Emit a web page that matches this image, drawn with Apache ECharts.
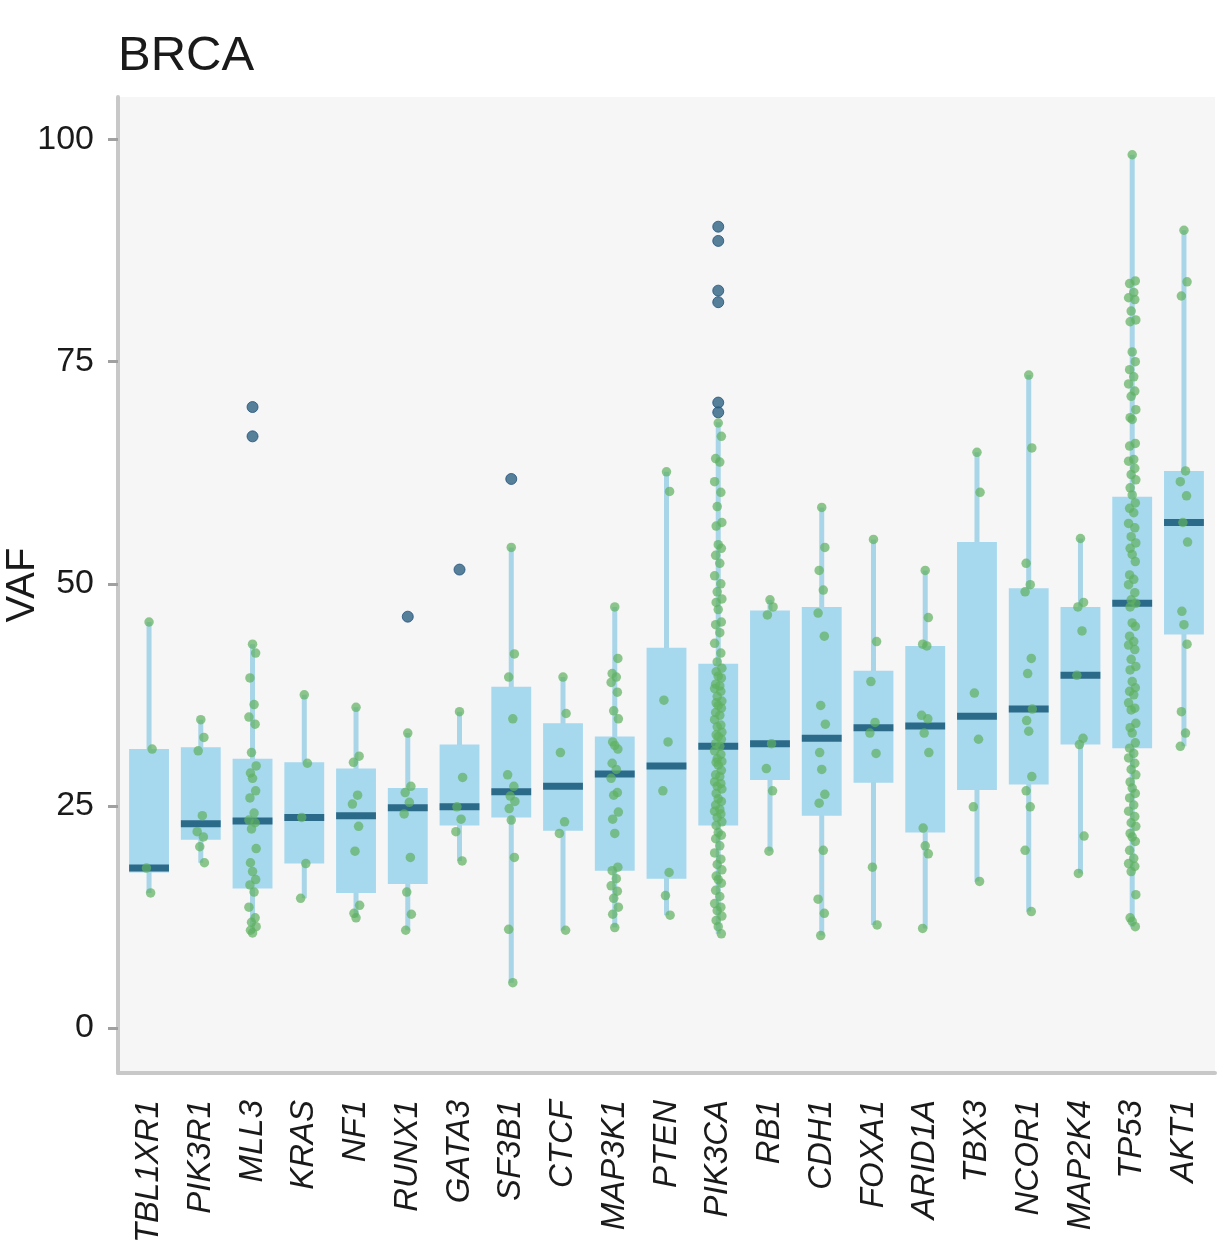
<!DOCTYPE html>
<html>
<head>
<meta charset="utf-8">
<script src="https://cdn.jsdelivr.net/npm/echarts@6/dist/echarts.min.js"></script>
<style>
html,body{margin:0;padding:0;background:#fff;}
#chart{width:1230px;height:1260px;}
</style>
</head>
<body>
<div id="chart"></div>
<script>
const genes = ['TBL1XR1','PIK3R1','MLL3','KRAS','NF1','RUNX1','GATA3','SF3B1','CTCF','MAP3K1','PTEN','PIK3CA','RB1','CDH1','FOXA1','ARID1A','TBX3','NCOR1','MAP2K4','TP53','AKT1'];

const whiskerLow  = [15.2, 18.6, 10.7, 14.6, 12.4, 11.0, 18.8,  5.1, 11.0, 11.3, 12.7, 10.6, 19.9, 10.4, 11.6, 11.2, 16.5, 13.1, 17.4, 11.4, 31.7];
const boxQ1       = [17.5, 21.2, 15.7, 18.5, 15.2, 16.2, 22.8, 23.7, 22.2, 17.7, 16.8, 22.8, 27.9, 23.9, 27.6, 22.0, 26.8, 27.4, 31.9, 31.5, 44.3];
const boxMedian   = [18.0, 23.0, 23.3, 23.7, 23.9, 24.8, 24.9, 26.6, 27.2, 28.6, 29.5, 31.7, 32.0, 32.6, 33.8, 34.0, 35.1, 35.9, 39.7, 47.8, 56.9];
const boxQ3       = [31.4, 31.6, 30.3, 29.9, 29.2, 27.0, 31.9, 38.4, 34.3, 32.8, 42.8, 41.0, 47.0, 47.4, 40.2, 43.0, 54.7, 49.5, 47.4, 59.8, 62.7];
const whiskerHigh = [45.7, 34.7, 43.2, 37.5, 36.1, 33.2, 35.6, 54.1, 39.5, 47.4, 62.6, 68.2, 48.2, 58.6, 55.0, 51.5, 64.8, 73.5, 55.1, 98.3, 89.8];

const outlierGene = ['MLL3','MLL3','RUNX1','GATA3','SF3B1','PIK3CA','PIK3CA','PIK3CA','PIK3CA','PIK3CA','PIK3CA'];
const outlierVAF  = [69.9, 66.6, 46.3, 51.6, 61.8, 90.2, 88.6, 83.0, 81.7, 70.4, 69.3];

const ptsTBL1XR1 = [45.7, 31.4, 18.0, 15.2];
const ptsPIK3R1 = [34.7, 32.7, 31.2, 23.9, 22.1, 21.5, 20.4, 18.6];
const ptsMLL3 = [43.2, 42.2, 39.4, 36.4, 35.0, 34.2, 31.0, 29.5, 28.7, 28.1, 26.7, 25.9, 24.2, 23.4, 23.1, 22.4, 20.2, 18.6, 17.6, 16.7, 16.1, 15.3, 13.6, 12.4, 11.9, 11.4, 11.0, 10.7];
const ptsKRAS = [37.5, 29.8, 23.7, 18.5, 14.6];
const ptsNF1 = [36.1, 30.6, 29.9, 26.2, 25.2, 22.7, 19.9, 13.8, 12.9, 12.4];
const ptsRUNX1 = [33.2, 27.2, 26.5, 25.4, 24.1, 19.2, 15.3, 12.8, 11.0];
const ptsGATA3 = [35.6, 28.2, 24.9, 23.5, 22.1, 18.8];
const ptsSF3B1 = [54.1, 42.1, 39.5, 34.8, 28.5, 27.2, 26.1, 25.5, 24.7, 23.4, 19.2, 11.1, 5.1];
const ptsCTCF = [39.5, 35.4, 31.0, 23.2, 21.9, 11.0];
const ptsMAP3K1 = [47.4, 41.6, 39.9, 39.5, 38.9, 37.8, 35.7, 34.8, 32.2, 31.8, 31.4, 29.8, 29.1, 28.1, 26.5, 26.2, 24.3, 23.5, 21.9, 18.1, 17.7, 16.8, 16.0, 15.4, 14.6, 13.6, 12.8, 11.3];
const ptsPTEN = [62.6, 60.4, 36.9, 32.2, 26.7, 17.5, 14.9, 12.7];
const ptsPIK3CA = [68.1, 66.6, 64.1, 63.7, 61.5, 60.3, 58.7, 56.9, 56.5, 54.4, 54.0, 53.2, 52.3, 50.9, 50.0, 49.1, 48.3, 47.9, 47.1, 45.7, 45.4, 44.5, 43.3, 42.2, 41.2, 40.5,
  40.1, 39.6, 39.4, 38.7, 38.5, 38.2, 37.9, 37.3, 36.8, 36.6, 36.3, 36.0, 35.5, 35.2, 34.7, 34.1, 33.9, 33.3, 33.0, 32.8, 32.5, 32.0, 31.7, 31.2, 30.8, 30.3, 30.0, 29.9, 29.6, 29.0,
  28.5, 28.3, 27.7, 27.5, 27.2, 26.9, 26.4, 25.8, 25.5, 25.1, 24.6, 24.4, 24.1, 23.7, 23.2, 22.8, 22.0, 21.7, 21.3, 20.5, 19.7, 19.0, 18.4, 17.8, 17.1, 16.7, 16.3, 15.5, 14.8,
  14.0, 13.6, 13.2, 12.6, 12.1, 11.4, 10.6];
const ptsRB1 = [48.2, 47.4, 46.5, 32.0, 29.2, 26.7, 19.9];
const ptsCDH1 = [58.6, 54.1, 51.5, 49.3, 46.7, 44.1, 36.3, 34.2, 31.0, 29.1, 26.3, 25.3, 20.0, 14.5, 12.9, 10.4];
const ptsFOXA1 = [55.0, 43.5, 39.0, 34.4, 33.2, 30.9, 18.1, 11.6];
const ptsARID1A = [51.5, 46.2, 43.2, 43.0, 35.2, 34.8, 33.2, 31.0, 22.5, 20.5, 19.6, 11.2];
const ptsTBX3 = [64.8, 60.3, 37.7, 32.5, 24.9, 16.5];
const ptsNCOR1 = [73.5, 65.3, 52.3, 49.9, 49.1, 41.6, 39.9, 35.9, 34.6, 33.4, 28.3, 26.7, 24.9, 20.0, 13.1];
const ptsMAP2K4 = [55.1, 47.9, 47.4, 44.7, 39.7, 32.6, 31.9, 21.6, 17.4];
const ptsTP53 = [98.3, 84.1, 83.8, 82.8, 82.2, 82.0, 80.7, 79.7, 79.5, 76.1, 75.0, 74.1, 73.3, 72.5, 71.7, 71.1, 69.6, 68.7, 68.5, 65.8, 65.5, 64.0, 63.8, 63.0, 62.3, 61.7,
  60.8, 60.0, 59.1, 58.5, 58.0, 56.8, 56.3, 55.3, 54.6, 54.0, 53.3, 52.5, 51.0, 50.5, 49.9, 49.0, 48.2, 47.8, 47.4, 45.6, 45.2, 44.1, 43.5, 43.1, 42.6, 41.5, 40.7, 40.3,
  39.0, 38.3, 37.9, 37.5, 36.6, 36.0, 35.8, 34.3, 33.8, 33.2, 32.1, 31.5, 30.9, 30.4, 29.8, 29.1, 28.5, 27.7, 27.0, 26.4, 25.9, 25.1, 24.4, 23.8, 23.1, 22.7, 21.9, 21.5,
  21.0, 20.0, 19.1, 18.5, 18.2, 17.6, 15.0, 12.4, 12.0, 11.4];
const ptsAKT1 = [89.8, 84.0, 82.4, 62.7, 61.5, 59.9, 56.9, 54.7, 46.9, 45.4, 43.2, 35.6, 33.2, 31.7];

const pointLists = [ptsTBL1XR1, ptsPIK3R1, ptsMLL3, ptsKRAS, ptsNF1, ptsRUNX1, ptsGATA3, ptsSF3B1, ptsCTCF, ptsMAP3K1, ptsPTEN, ptsPIK3CA, ptsRB1, ptsCDH1, ptsFOXA1, ptsARID1A, ptsTBX3, ptsNCOR1, ptsMAP2K4, ptsTP53, ptsAKT1];

const yTicks = [0, 25, 50, 75, 100];

// build series data
const boxData = genes.map((g, i) => [i, whiskerLow[i], boxQ1[i], boxMedian[i], boxQ3[i], whiskerHigh[i]]);
const jitterSteps = [0, 0.06, -0.05, 0.03, -0.07, 0.05, -0.02, 0.07, -0.04];
const pointData = [];
pointLists.forEach((arr, gi) => {
  arr.forEach((v, k) => {
    const off = arr.length > 1 ? jitterSteps[k % jitterSteps.length] : 0;
    pointData.push([gi + off, v]);
  });
});
const outlierData = outlierGene.map((g, i) => [genes.indexOf(g), outlierVAF[i]]);

const FONT = '"Liberation Sans", Arial, Helvetica, sans-serif';
const chart = echarts.init(document.getElementById('chart'), null, {renderer: 'canvas'});
chart.setOption({
  animation: false,
  backgroundColor: '#ffffff',
  title: {
    text: 'BRCA', left: 118, top: 32, padding: 0,
    textStyle: {fontFamily: FONT, fontSize: 49, fontWeight: 'normal', color: '#1a1a1a'}
  },
  grid: {
    left: 118, right: 15, top: 97, bottom: 187,
    containLabel: false, outerBoundsMode: 'none',
    show: true, backgroundColor: '#f6f6f6', borderWidth: 0
  },
  xAxis: {
    type: 'value', min: -0.6, max: 20.6,
    splitLine: {show: false},
    axisLine: {show: true, onZero: false, lineStyle: {color: '#c8c8c8', width: 4}},
    axisTick: {show: false},
    axisLabel: {
      customValues: genes.map((g, i) => i),
      formatter: v => genes[Math.round(v)] || '',
      rotate: 90, margin: 27,
      fontFamily: FONT, fontSize: 33, fontStyle: 'italic', color: '#1a1a1a'
    }
  },
  yAxis: {
    type: 'value', min: -5.07, max: 104.8,
    name: 'VAF', nameLocation: 'middle', nameGap: 75, nameMoveOverlap: false,
    nameTextStyle: {fontFamily: FONT, fontSize: 40, color: '#1a1a1a'},
    splitLine: {show: false},
    axisLine: {show: true, onZero: false, lineStyle: {color: '#c8c8c8', width: 4}},
    axisTick: {show: true, customValues: yTicks, length: 10, lineStyle: {color: '#a0a0a0', width: 3}},
    axisLabel: {
      customValues: yTicks, margin: 24,
      fontFamily: FONT, fontSize: 34, color: '#1a1a1a'
    }
  },
  series: [
    {
      type: 'custom',
      data: boxData,
      encode: {x: 0, y: [1, 2, 3, 4, 5]},
      z: 2,
      renderItem: function (params, api) {
        const x = api.value(0);
        const lo = api.coord([x, api.value(1)]);
        const q1 = api.coord([x, api.value(2)]);
        const md = api.coord([x, api.value(3)]);
        const q3 = api.coord([x, api.value(4)]);
        const hi = api.coord([x, api.value(5)]);
        const half = api.size([0.77, 0])[0] / 2;
        const cx = lo[0];
        return {
          type: 'group',
          children: [
            {type: 'line', shape: {x1: cx, y1: lo[1], x2: cx, y2: hi[1]}, style: {stroke: '#a8d5e8', lineWidth: 5}},
            {type: 'rect', shape: {x: cx - half, y: q3[1], width: half * 2, height: q1[1] - q3[1]}, style: {fill: '#a6d8ee'}},
            {type: 'rect', shape: {x: cx - half, y: md[1] - 3.5, width: half * 2, height: 7}, style: {fill: '#2c6a89'}}
          ]
        };
      }
    },
    {
      type: 'scatter',
      data: outlierData,
      symbol: 'circle', symbolSize: 11, z: 3,
      itemStyle: {color: '#2e6383', borderColor: '#22507a', borderWidth: 1}
    },
    {
      type: 'scatter',
      data: pointData,
      symbol: 'circle', symbolSize: 9.5, z: 4,
      itemStyle: {color: 'rgba(96,176,96,0.88)'}
    }
  ]
});
</script>
</body>
</html>
